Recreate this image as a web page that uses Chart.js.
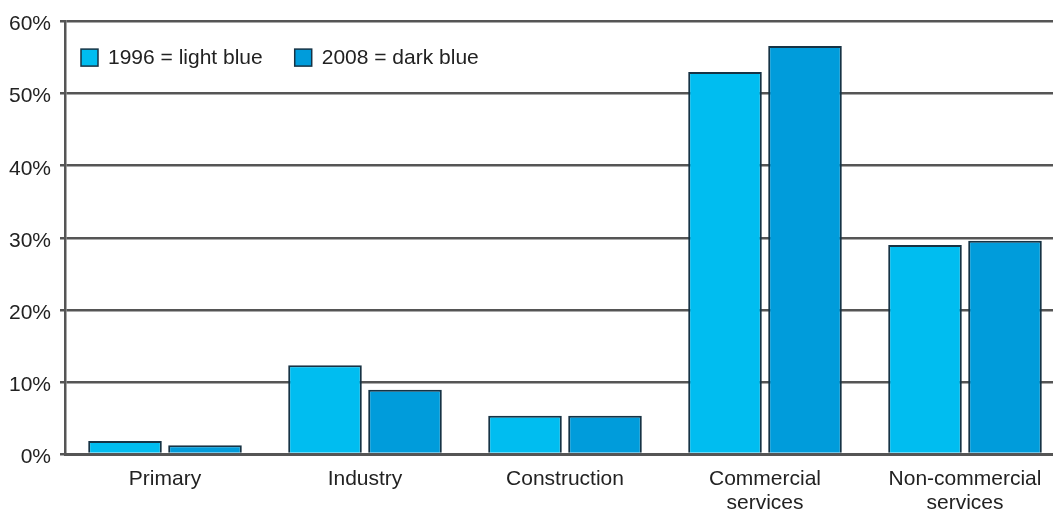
<!DOCTYPE html>
<html>
<head>
<meta charset="utf-8">
<script src="https://cdn.jsdelivr.net/npm/chart.js@4.4.0/dist/chart.umd.min.js"></script>
<style>
  html, body { margin: 0; padding: 0; background: #fff; overflow: hidden; }
  #wrap { width: 1065px; height: 512px; }
</style>
</head>
<body>
<div id="wrap"><canvas id="barChart" width="1065" height="512"></canvas></div>
<script>
// Share of employment by sector, 1996 vs 2008
const categories = ['Primary', 'Industry', 'Construction', ['Commercial', 'services'], ['Non-commercial', 'services']];
const values1996 = [1.8, 12.3, 5.3, 53.0, 29.0];
const values2008 = [1.2, 8.9, 5.3, 56.6, 29.6];
const yTicks = [0, 10, 20, 30, 40, 50, 60];

const gridColor = '#555';
const barEdge = '#163345';
const fontFamily = 'Liberation Sans, Arial, sans-serif';

Chart.defaults.font.family = fontFamily;
Chart.defaults.color = '#222';

// legend drawn inside the plot, in one row, top left
const insideLegend = {
  id: 'insideLegend',
  afterDraw(chart) {
    const c = chart.ctx;
    const area = chart.chartArea;
    let x = area.left + 16;
    const y = area.top + 36;
    c.save();
    c.font = '21px ' + fontFamily;
    c.textBaseline = 'middle';
    chart.data.datasets.forEach(ds => {
      c.fillStyle = ds.backgroundColor;
      c.fillRect(x, y - 8.5, 17, 17);
      c.strokeStyle = barEdge;
      c.lineWidth = 1.5;
      c.strokeRect(x, y - 8.5, 17, 17);
      c.fillStyle = '#222';
      c.fillText(ds.label, x + 27, y + 1);
      x += 27 + c.measureText(ds.label).width + 32;
    });
    c.restore();
  }
};

const ctx = document.getElementById('barChart').getContext('2d');
const barChart = new Chart(ctx, {
  type: 'bar',
  data: {
    labels: categories,
    datasets: [
      {
        label: '1996 = light blue',
        data: values1996,
        backgroundColor: '#00bdf0',
        borderColor: barEdge,
        borderWidth: 2,
        categoryPercentage: 0.8,
        barPercentage: 0.92
      },
      {
        label: '2008 = dark blue',
        data: values2008,
        backgroundColor: '#009cdb',
        borderColor: barEdge,
        borderWidth: 2,
        categoryPercentage: 0.8,
        barPercentage: 0.92
      }
    ]
  },
  options: {
    responsive: false,
    animation: false,
    layout: { padding: { top: 20, right: 0, left: 0, bottom: 0 } },
    plugins: {
      legend: { display: false },
      tooltip: { enabled: false }
    },
    scales: {
      x: {
        grid: { display: false },
        border: { display: true, color: gridColor, width: 3 },
        ticks: { font: { size: 21, lineHeight: 1.14 }, padding: 5, color: '#222' },
        afterFit(scale) { scale.height = 58; }
      },
      y: {
        min: 0,
        max: 60,
        afterBuildTicks(scale) { scale.ticks = yTicks.map(v => ({ value: v })); },
        grid: { color: gridColor, lineWidth: 2.5, tickLength: 5 },
        border: { display: true, color: gridColor, width: 2.5 },
        ticks: {
          font: { size: 21 },
          color: '#222',
          padding: 9,
          labelOffset: 3,
          callback: v => v + '%'
        },
        afterFit(scale) { scale.width = 65; }
      }
    }
  },
  plugins: [insideLegend]
});
</script>
</body>
</html>
